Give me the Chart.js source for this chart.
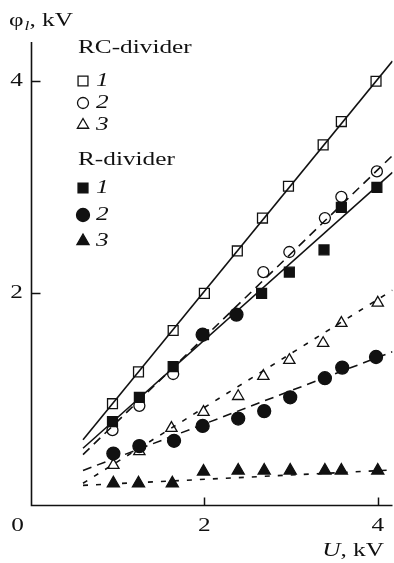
<!DOCTYPE html>
<html>
<head>
<meta charset="utf-8">
<script src="https://cdn.jsdelivr.net/npm/chart.js@4"></script>
<style>
  html, body { margin: 0; padding: 0; background: #fff; }
  #wrap { width: 394px; height: 563px; }
</style>
</head>
<body>
<div id="wrap"><canvas id="phiChart" width="394" height="563"></canvas></div>
<script>
// Measured points: applied voltage U (kV) vs potential phi_l (kV)
const rc1U   = [0.94, 1.24, 1.64, 2.0, 2.38, 2.67, 2.97, 3.37, 3.58, 3.98];
const rc1Phi = [0.96, 1.26, 1.65, 2.0, 2.40, 2.71, 3.01, 3.40, 3.62, 4.00];

const rc2U   = [0.94, 1.25, 1.64, 2.68, 2.98, 3.39, 3.58, 3.99];
const rc2Phi = [0.71, 0.94, 1.24, 2.20, 2.39, 2.71, 2.91, 3.15];

const rc3U   = [0.95, 1.25, 1.62, 1.99, 2.39, 2.68, 2.98, 3.37, 3.58, 4.0];
const rc3Phi = [0.38, 0.51, 0.73, 0.88, 1.03, 1.22, 1.37, 1.53, 1.72, 1.91];

const r1U   = [0.94, 1.25, 1.64, 1.99, 2.66, 2.98, 3.38, 3.58, 3.99];
const r1Phi = [0.79, 1.02, 1.31, 1.61, 2.0, 2.2, 2.41, 2.81, 3.0];

const r2U   = [0.95, 1.25, 1.65, 1.98, 2.39, 2.69, 2.99, 3.39, 3.59, 3.98];
const r2Phi = [0.49, 0.56, 0.61, 0.75, 0.82, 0.89, 1.02, 1.20, 1.30, 1.40];

// two filled circles sitting on the R-divider 1 line
const rExtraU   = [1.98, 2.37];
const rExtraPhi = [1.61, 1.80];

const r3U   = [0.95, 1.24, 1.63, 1.99, 2.39, 2.69, 2.99, 3.39, 3.58, 4.0];
const r3Phi = [0.21, 0.21, 0.21, 0.32, 0.33, 0.33, 0.33, 0.33, 0.33, 0.33];

// straight fits, start and end
const fitU     = [0.6, 4.17];
const rc1Fit   = [0.62, 4.19];
const r1Fit    = [0.54, 3.14];
const rc2Fit   = [0.48, 3.30];
const r2Fit    = [0.33, 1.45];
const rc3Fit   = [0.21, 2.03];
const r3Fit    = [0.19, 0.335];

const xTicks = [0, 2, 4];
const yTicks = [2, 4];

const INK = '#111';
const SERIF = '"Liberation Serif", "DejaVu Serif", serif';
const STRETCH = 1.33;   // the lettering is set wide

const pts = (xs, ys) => xs.map((x, i) => ({ x, y: ys[i] }));

function markers(xs, ys, style, filled, radius) {
    return {
        type: 'scatter',
        data: pts(xs, ys),
        pointStyle: style,
        pointRadius: radius,
        pointHoverRadius: radius,
        pointBorderWidth: 1.3,
        pointBorderColor: INK,
        pointBackgroundColor: filled ? INK : 'rgba(0,0,0,0)',
        showLine: false
    };
}

function fit(ys, dash) {
    return {
        type: 'line',
        data: pts(fitU, ys),
        borderColor: INK,
        borderWidth: 1.6,
        borderDash: dash,
        pointRadius: 0,
        fill: false,
        tension: 0
    };
}

// draw text stretched horizontally, anchored at x
function wideText(ctx, text, x, y, align) {
    const w = ctx.measureText(text).width * STRETCH;
    let left = x;
    if (align === 'center') left = x - w / 2;
    if (align === 'right') left = x - w;
    ctx.save();
    ctx.textAlign = 'left';
    ctx.translate(left, y);
    ctx.scale(STRETCH, 1);
    ctx.fillText(text, 0, 0);
    ctx.restore();
    return w;
}

// legend entries drawn next to the data
const legendRows = [
    { head: 'RC-divider', y: 48 },
    { style: 'rect', filled: false, r: 7, label: '1', y: 81 },
    { style: 'circle', filled: false, r: 5.5, label: '2', y: 103 },
    { style: 'triangle', filled: false, r: 6.5, label: '3', y: 125 },
    { head: 'R-divider', y: 160 },
    { style: 'rect', filled: true, r: 7, label: '1', y: 188 },
    { style: 'circle', filled: true, r: 6.5, label: '2', y: 215 },
    { style: 'triangle', filled: true, r: 7, label: '3', y: 241 }
];

const decorations = {
    id: 'decorations',
    afterDraw(chart) {
        const { ctx, chartArea } = chart;
        const xs = chart.scales.x, ys = chart.scales.y;
        const x0 = Math.round(xs.getPixelForValue(0)) + 0.5;
        const y0 = Math.round(ys.getPixelForValue(0)) - 0.5;
        ctx.save();
        ctx.strokeStyle = INK;
        ctx.fillStyle = INK;
        ctx.lineWidth = 1.6;

        // axes
        ctx.beginPath();
        ctx.moveTo(x0, chartArea.top);
        ctx.lineTo(x0, y0);
        ctx.lineTo(chartArea.right, y0);
        ctx.stroke();

        // inward tick marks
        ctx.lineWidth = 1.5;
        xTicks.filter(v => v > 0).forEach(v => {
            const px = Math.round(xs.getPixelForValue(v)) + 0.5;
            ctx.beginPath();
            ctx.moveTo(px, y0);
            ctx.lineTo(px, y0 - 8);
            ctx.stroke();
        });
        yTicks.forEach(v => {
            const py = Math.round(ys.getPixelForValue(v)) + 0.5;
            ctx.beginPath();
            ctx.moveTo(x0, py);
            ctx.lineTo(x0 + 9, py);
            ctx.stroke();
        });

        // tick labels
        ctx.font = '19px ' + SERIF;
        ctx.textBaseline = 'middle';
        xTicks.forEach(v => {
            const px = v === 0 ? x0 - 14 : xs.getPixelForValue(v);
            wideText(ctx, String(v), px, y0 + 21, 'center');
        });
        yTicks.forEach(v => {
            wideText(ctx, String(v), x0 - 15, ys.getPixelForValue(v), 'center');
        });

        // axis titles
        ctx.textBaseline = 'alphabetic';
        let cx = 9;
        ctx.font = '19px ' + SERIF;
        cx += wideText(ctx, 'φ', cx, 26, 'left');
        ctx.font = 'italic 13px ' + SERIF;
        cx += wideText(ctx, 'l', cx + 1, 30, 'left') + 1;
        ctx.font = '19px ' + SERIF;
        wideText(ctx, ', kV', cx, 26, 'left');

        const w = wideText(ctx, ', kV', 384, 556, 'right');
        ctx.font = 'italic 19px ' + SERIF;
        wideText(ctx, 'U', 384 - w, 556, 'right');

        // legend
        ctx.textBaseline = 'middle';
        legendRows.forEach(row => {
            if (row.head) {
                ctx.font = '19px ' + SERIF;
                wideText(ctx, row.head, 78, row.y, 'left');
                return;
            }
            ctx.lineWidth = 1.3;
            ctx.fillStyle = row.filled ? INK : 'rgba(0,0,0,0)';
            Chart.helpers.drawPoint(ctx, {
                pointStyle: row.style, radius: row.r, rotation: 0, borderWidth: 1.3
            }, 83, row.y);
            ctx.fillStyle = INK;
            ctx.font = 'italic 19px ' + SERIF;
            wideText(ctx, row.label, 96, row.y, 'left');
        });
        ctx.restore();
    }
};

new Chart(document.getElementById('phiChart'), {
    data: {
        datasets: [
            markers(rExtraU, rExtraPhi, 'circle', true, 6.5),
            markers(rc1U, rc1Phi, 'rect', false, 7),
            markers(rc2U, rc2Phi, 'circle', false, 5.5),
            markers(rc3U, rc3Phi, 'triangle', false, 6.5),
            markers(r1U, r1Phi, 'rect', true, 7),
            markers(r2U, r2Phi, 'circle', true, 6.5),
            markers(r3U, r3Phi, 'triangle', true, 7),
            fit(rc1Fit, []),
            fit(r1Fit, []),
            fit(rc2Fit, [9, 6]),
            fit(r2Fit, [9, 6]),
            fit(rc3Fit, [5, 8]),
            fit(r3Fit, [5, 8])
        ]
    },
    options: {
        responsive: false,
        animation: false,
        layout: {
            autoPadding: false,
            padding: { left: 31, right: 1.5, top: 42, bottom: 57.5 }
        },
        plugins: {
            legend: { display: false },
            tooltip: { enabled: false }
        },
        scales: {
            x: { type: 'linear', min: 0, max: 4.17, display: false },
            y: { type: 'linear', min: 0, max: 4.37, display: false }
        }
    },
    plugins: [decorations]
});
</script>
</body>
</html>
